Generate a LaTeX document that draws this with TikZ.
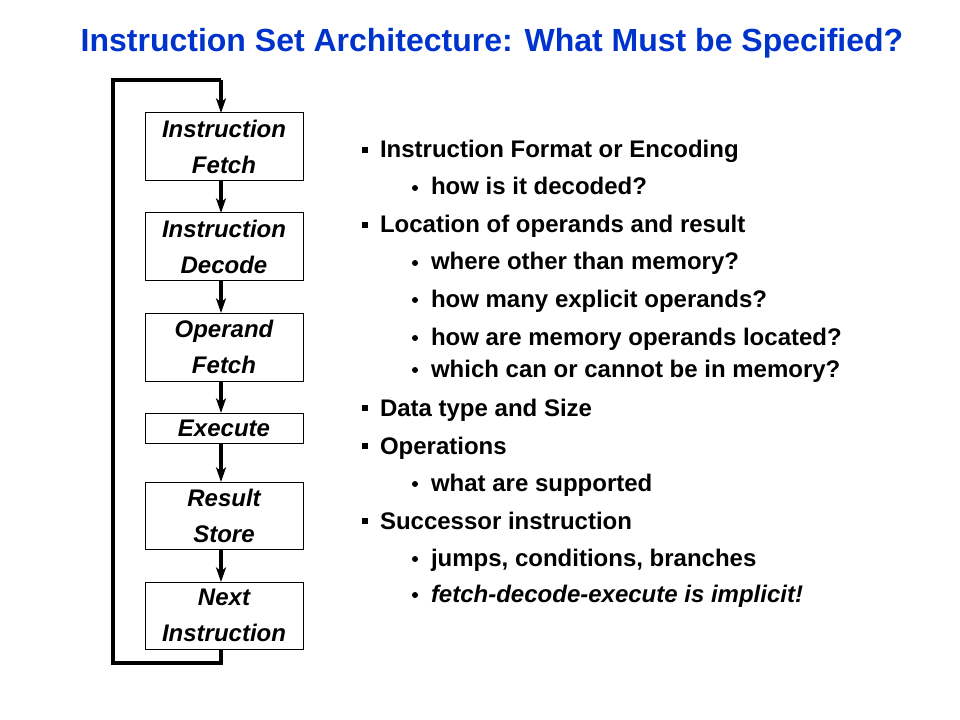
\documentclass[tikz,border=0pt]{standalone}
\usepackage{fontspec}
\setmainfont{Liberation Sans}
\usetikzlibrary{arrows.meta}
\definecolor{titleblue}{RGB}{0,51,204}

\begin{document}
\begin{tikzpicture}[x=0.75pt,y=-0.75pt]
\tikzstyle{every node}=[inner sep=0pt, outer sep=0pt]
\tikzstyle{stage}=[draw, line width=0.75pt, minimum width=118.5pt, align=center, font=\bfseries\itshape\fontsize{18}{27}\selectfont]
\tikzstyle{flow}=[line width=2.6pt, -{Stealth[length=11pt,width=7.5pt,inset=3pt]}]
\tikzstyle{loopline}=[line width=3pt]
\tikzstyle{item}=[anchor=base west, font=\bfseries\fontsize{18}{21}\selectfont]
\useasboundingbox (0,0) rectangle (960,720);
\node (title) at (492,43) [text=titleblue, font=\bfseries\fontsize{24}{28}\selectfont] {Instruction Set Architecture: What Must be Specified?};
\node (fetch) at (224,147) [stage, minimum height=51pt] {Instruction\\Fetch};
\node (decode) at (224,247) [stage, minimum height=51pt] {Instruction\\Decode};
\node (operand) at (224,347) [stage, minimum height=51pt] {Operand\\Fetch};
\node (execute) at (224,428) [stage, minimum height=22.5pt] {Execute};
\node (result) at (224,515.5) [stage, minimum height=50.25pt] {Result\\Store};
\node (next) at (224,615.5) [stage, minimum height=50.25pt] {Next\\Instruction};
\draw[flow] ([xshift=-2.25pt]fetch.south) -- ([xshift=-2.25pt]decode.north);
\draw[flow] ([xshift=-2.25pt]decode.south) -- ([xshift=-2.25pt]operand.north);
\draw[flow] ([xshift=-2.25pt]operand.south) -- ([xshift=-2.25pt]execute.north);
\draw[flow] ([xshift=-2.25pt]execute.south) -- ([xshift=-2.25pt]result.north);
\draw[flow] ([xshift=-2.25pt]result.south) -- ([xshift=-2.25pt]next.north);
\coordinate (lb) at (113,663);
\coordinate (lt) at (113,80);
\coordinate (tr) at (221,80);
\draw[loopline] ([xshift=-2.25pt]next.south) |- (lb) -- (lt) -- (tr);
\draw[flow] (tr) -- ([xshift=-2.25pt]fetch.north);
% the list on the right
\foreach \y/\lvl/\txt [count=\i] in {150/1/{Instruction Format or Encoding}, 187/2/{how is it decoded?},
  225/1/{Location of operands and result}, 262/2/{where other than memory?},
  299/2/{how many explicit operands?}, 337/2/{how are memory operands located?},
  369/2/{which can or cannot be in memory?}, 408/1/{Data type and Size},
  446/1/{Operations}, 483/2/{what are supported},
  521/1/{Successor instruction}, 558/2/{jumps, conditions, branches},
  594/2/{\itshape fetch-decode-execute is implicit!}}
{
  \ifnum\lvl=1
    \node (b\i) at (365,\y) [fill, minimum size=5pt] {};
    \node (t\i) at (380,\y+8) [item] {\txt};
  \else
    \node (b\i) at (415,\y+1) [circle, fill, minimum size=4.5pt] {};
    \node (t\i) at (431,\y+8) [item] {\txt};
  \fi
}
\end{tikzpicture}
\end{document}
